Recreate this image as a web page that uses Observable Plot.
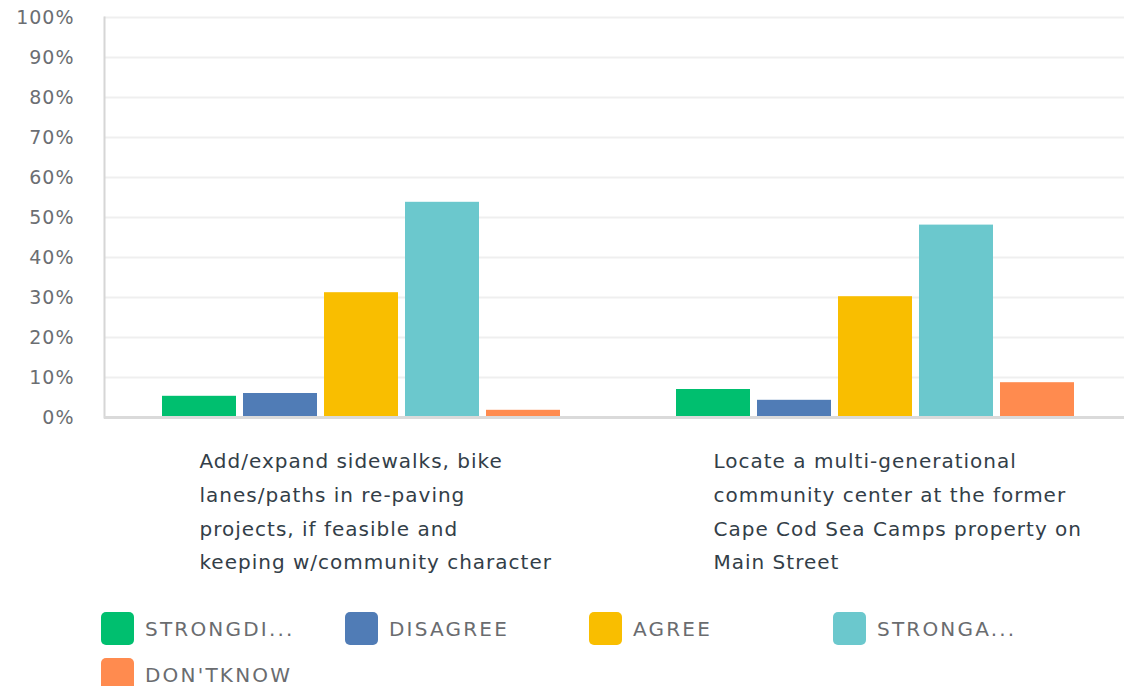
<!DOCTYPE html>
<html>
<head>
<meta charset="utf-8">
<script src="https://cdn.jsdelivr.net/npm/d3@7"></script>
<script src="https://cdn.jsdelivr.net/npm/@observablehq/plot@0.6"></script>
<style>
  html, body { margin: 0; padding: 0; background: #fff; overflow: hidden; }
  #chart svg { display: block; max-width: none !important; }
  #legend { position: relative; height: 96px; margin-top: 22px; font-family: "DejaVu Sans", sans-serif; }
  .item { position: absolute; height: 33px; display: flex; align-items: center; }
  .sw { width: 33px; height: 33px; border-radius: 5px; margin-right: 11px; flex: none; }
  .lb { font-size: 20px; color: #6a6c6f; letter-spacing: 2.2px; white-space: nowrap; }
</style>
</head>
<body>
<div id="chart"></div>
<div id="legend"></div>
<script>
const categories = ["STRONGDISAGREE", "DISAGREE", "AGREE", "STRONGAGREE", "DON'TKNOW"];
const legendLabels = ["STRONGDI...", "DISAGREE", "AGREE", "STRONGA...", "DON'TKNOW"];
const colors = ["#00bf6f", "#507cb6", "#f9be00", "#6bc8cd", "#ff8b4f"];
const questions = [
  "Add/expand sidewalks, bike lanes/paths in re-paving projects, if feasible and keeping w/community character",
  "Locate a multi-generational community center at the former Cape Cod Sea Camps property on Main Street"
];
const questionLines = [
  ["Add/expand sidewalks, bike", "lanes/paths in re-paving", "projects, if feasible and", "keeping w/community character"],
  ["Locate a multi-generational", "community center at the former", "Cape Cod Sea Camps property on", "Main Street"]
];
const valuesQ1 = [5.3, 6.0, 31.2, 53.8, 1.8];
const valuesQ2 = [7.0, 4.3, 30.2, 48.1, 8.7];
const yTicks = [0, 10, 20, 30, 40, 50, 60, 70, 80, 90, 100];

const seriesValues = [valuesQ1, valuesQ2];
const rows = questions.flatMap((q, i) =>
  categories.map((c, j) => ({question: q, answer: c, value: seriesValues[i][j]}))
);

const chart = Plot.plot({
  width: 1132,
  height: 590,
  marginLeft: 104,
  marginRight: 0,
  marginTop: 17,
  marginBottom: 173,
  style: {fontFamily: "'DejaVu Sans', sans-serif", background: "#fff", overflow: "visible", maxWidth: "none", letterSpacing: "1px"},
  fx: {domain: questions, axis: null, padding: 0},
  x: {domain: categories, axis: null, paddingInner: 0.085, paddingOuter: 0.677},
  y: {domain: [0, 100], axis: null},
  color: {domain: categories, range: colors},
  marks: [
    Plot.gridY(yTicks, {stroke: "#efefef", strokeOpacity: 1, strokeWidth: 2}),
    Plot.frame({anchor: "left", stroke: "#d6d6d6", strokeWidth: 2, facetAnchor: "left"}),
    Plot.barY(rows, {fx: "question", x: "answer", y: "value", fill: "answer"}),
    Plot.ruleY([0], {stroke: "#dadada", strokeWidth: 3}),
    Plot.axisY({ticks: yTicks, tickFormat: d => d + "%", tickSize: 0, tickPadding: 30, fontSize: 19, fill: "#6b6e72", label: null}),
    Plot.text(questions, {
      fx: d => d,
      text: d => questionLines[questions.indexOf(d)].join("\n"),
      frameAnchor: "bottom",
      lineAnchor: "top",
      textAnchor: "start",
      dx: -162,
      dy: 27,
      fontSize: 20,
      lineHeight: 1.68,
      fill: "#333e48"
    })
  ]
});
document.getElementById("chart").append(chart);

const legend = document.getElementById("legend");
const itemLeft = [101, 345, 589, 833, 101];
const itemTop = [0, 0, 0, 0, 46];
categories.forEach((c, i) => {
  const item = document.createElement("div");
  item.className = "item";
  item.style.left = itemLeft[i] + "px";
  item.style.top = itemTop[i] + "px";
  const sw = document.createElement("div");
  sw.className = "sw";
  sw.style.background = colors[i];
  const lb = document.createElement("span");
  lb.className = "lb";
  lb.textContent = legendLabels[i];
  item.append(sw, lb);
  legend.append(item);
});
</script>
</body>
</html>
